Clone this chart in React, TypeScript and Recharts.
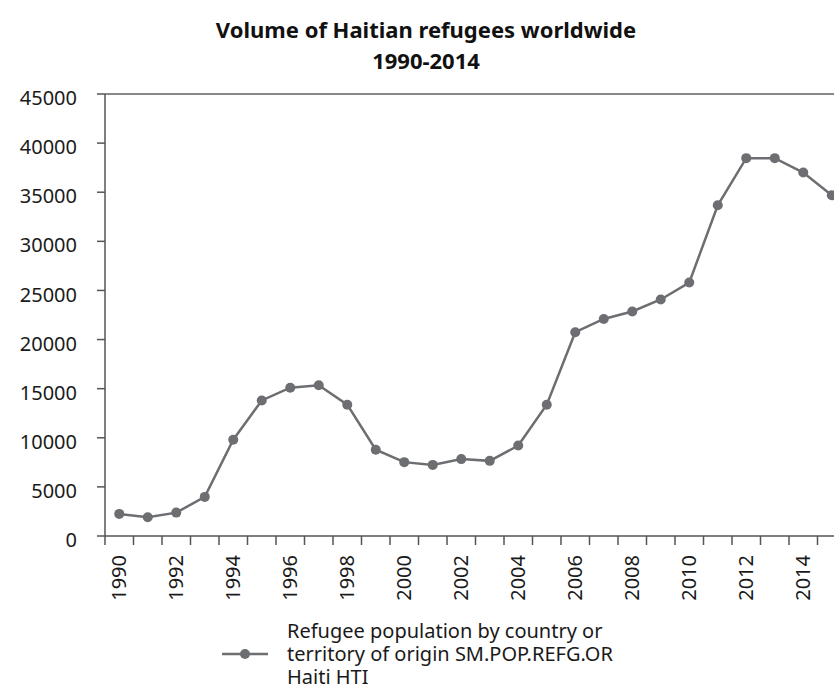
import { LineChart, Line, XAxis, YAxis, ReferenceLine, Legend } from 'recharts';

const years = [
  1990, 1991, 1992, 1993, 1994, 1995, 1996, 1997, 1998, 1999, 2000, 2001, 2002,
  2003, 2004, 2005, 2006, 2007, 2008, 2009, 2010, 2011, 2012, 2013, 2014, 2015,
];

const refugees = [
  2250, 1900, 2380, 3980, 9800, 13800, 15100, 15340, 13370, 8780, 7520, 7240, 7830,
  7650, 9210, 13370, 20750, 22100, 22860, 24080, 25800, 33670, 38470, 38470, 37000, 34690,
];

const yTicks = [0, 5000, 10000, 15000, 20000, 25000, 30000, 35000, 40000, 45000];

const labelYears = years.filter((y) => y % 2 === 0);
const bandEdges = [years[0] - 0.5, ...years.map((y) => y + 0.5)];

const seriesName = 'Refugee population by country or territory of origin SM.POP.REFG.OR Haiti HTI';

const data = years.map((year, i) => ({ year, refugees: refugees[i] }));

const FONT = '"Noto Sans", sans-serif';
const LINE_COLOR = '#6d6e72';
const AXIS_COLOR = '#555555';

const YearTick = (props: any) => {
  const { x, y, payload } = props;
  const v = payload.value;
  if (Number.isInteger(v)) {
    return (
      <g transform={`translate(${x},${y})`}>
        <text
          transform="rotate(-90)"
          x={-19}
          dy="0.36em"
          textAnchor="end"
          fontSize={20}
          fontFamily={FONT}
          fill="#1a1a1a"
        >
          {v}
        </text>
      </g>
    );
  }
  return <line x1={x} x2={x} y1={y} y2={y + 9} stroke={AXIS_COLOR} strokeWidth={1.5} />;
};

const LegendContent = (props: any) => {
  const item = props.payload && props.payload[0];
  return (
    <div style={{ height: 75, display: 'flex', alignItems: 'center', paddingLeft: 222, fontFamily: FONT }}>
      <svg width={48} height={14} style={{ marginRight: 17 }}>
        <line x1={0} x2={46} y1={7} y2={7} stroke={item ? item.color : LINE_COLOR} strokeWidth={2.5} />
        <circle cx={23} cy={7} r={5} fill={item ? item.color : LINE_COLOR} />
      </svg>
      <div style={{ width: 340, fontSize: 20, lineHeight: '23px', color: '#1a1a1a' }}>
        {item ? item.value : ''}
      </div>
    </div>
  );
};

export default function App() {
  return (
    <div
      style={{
        position: 'fixed',
        left: 0,
        top: 0,
        width: 834,
        height: 691,
        overflow: 'hidden',
        background: '#fff',
      }}
    >
      <div
        style={{
          position: 'absolute',
          top: 14,
          left: 18,
          width: 816,
          textAlign: 'center',
          fontFamily: FONT,
          fontWeight: 700,
          fontSize: 22,
          lineHeight: '31px',
          color: '#111',
          zIndex: 2,
        }}
      >
        Volume of Haitian refugees worldwide
        <br />
        1990-2014
      </div>
      <LineChart
        width={870}
        height={691}
        data={data}
        margin={{ top: 94, right: 24, bottom: 0, left: 0 }}
        style={{ position: 'absolute', left: 0, top: 0 }}
      >
        <XAxis
          dataKey="year"
          type="number"
          domain={[bandEdges[0], bandEdges[bandEdges.length - 1]]}
          ticks={[...bandEdges, ...labelYears]}
          interval={0}
          allowDataOverflow
          height={80}
          tickSize={0}
          tickMargin={0}
          tickLine={false}
          axisLine={{ stroke: AXIS_COLOR, strokeWidth: 1.5 }}
          tick={<YearTick />}
        />
        <YAxis
          domain={[0, 45000]}
          ticks={yTicks}
          interval={0}
          width={105}
          tickSize={8}
          tickMargin={20}
          axisLine={{ stroke: AXIS_COLOR, strokeWidth: 1.5 }}
          tickLine={{ stroke: AXIS_COLOR, strokeWidth: 1.5 }}
          tick={{ fontSize: 20, fontFamily: FONT, fill: '#1a1a1a', dy: 4 }}
        />
        <ReferenceLine y={45000} stroke="#888888" strokeWidth={2} />
        <Legend verticalAlign="bottom" content={<LegendContent />} wrapperStyle={{ left: 0, width: 834 }} />
        <Line
          dataKey="refugees"
          name={seriesName}
          stroke={LINE_COLOR}
          strokeWidth={2.5}
          dot={{ r: 5, fill: LINE_COLOR, stroke: LINE_COLOR, strokeWidth: 0 }}
          isAnimationActive={false}
        />
      </LineChart>
    </div>
  );
}
